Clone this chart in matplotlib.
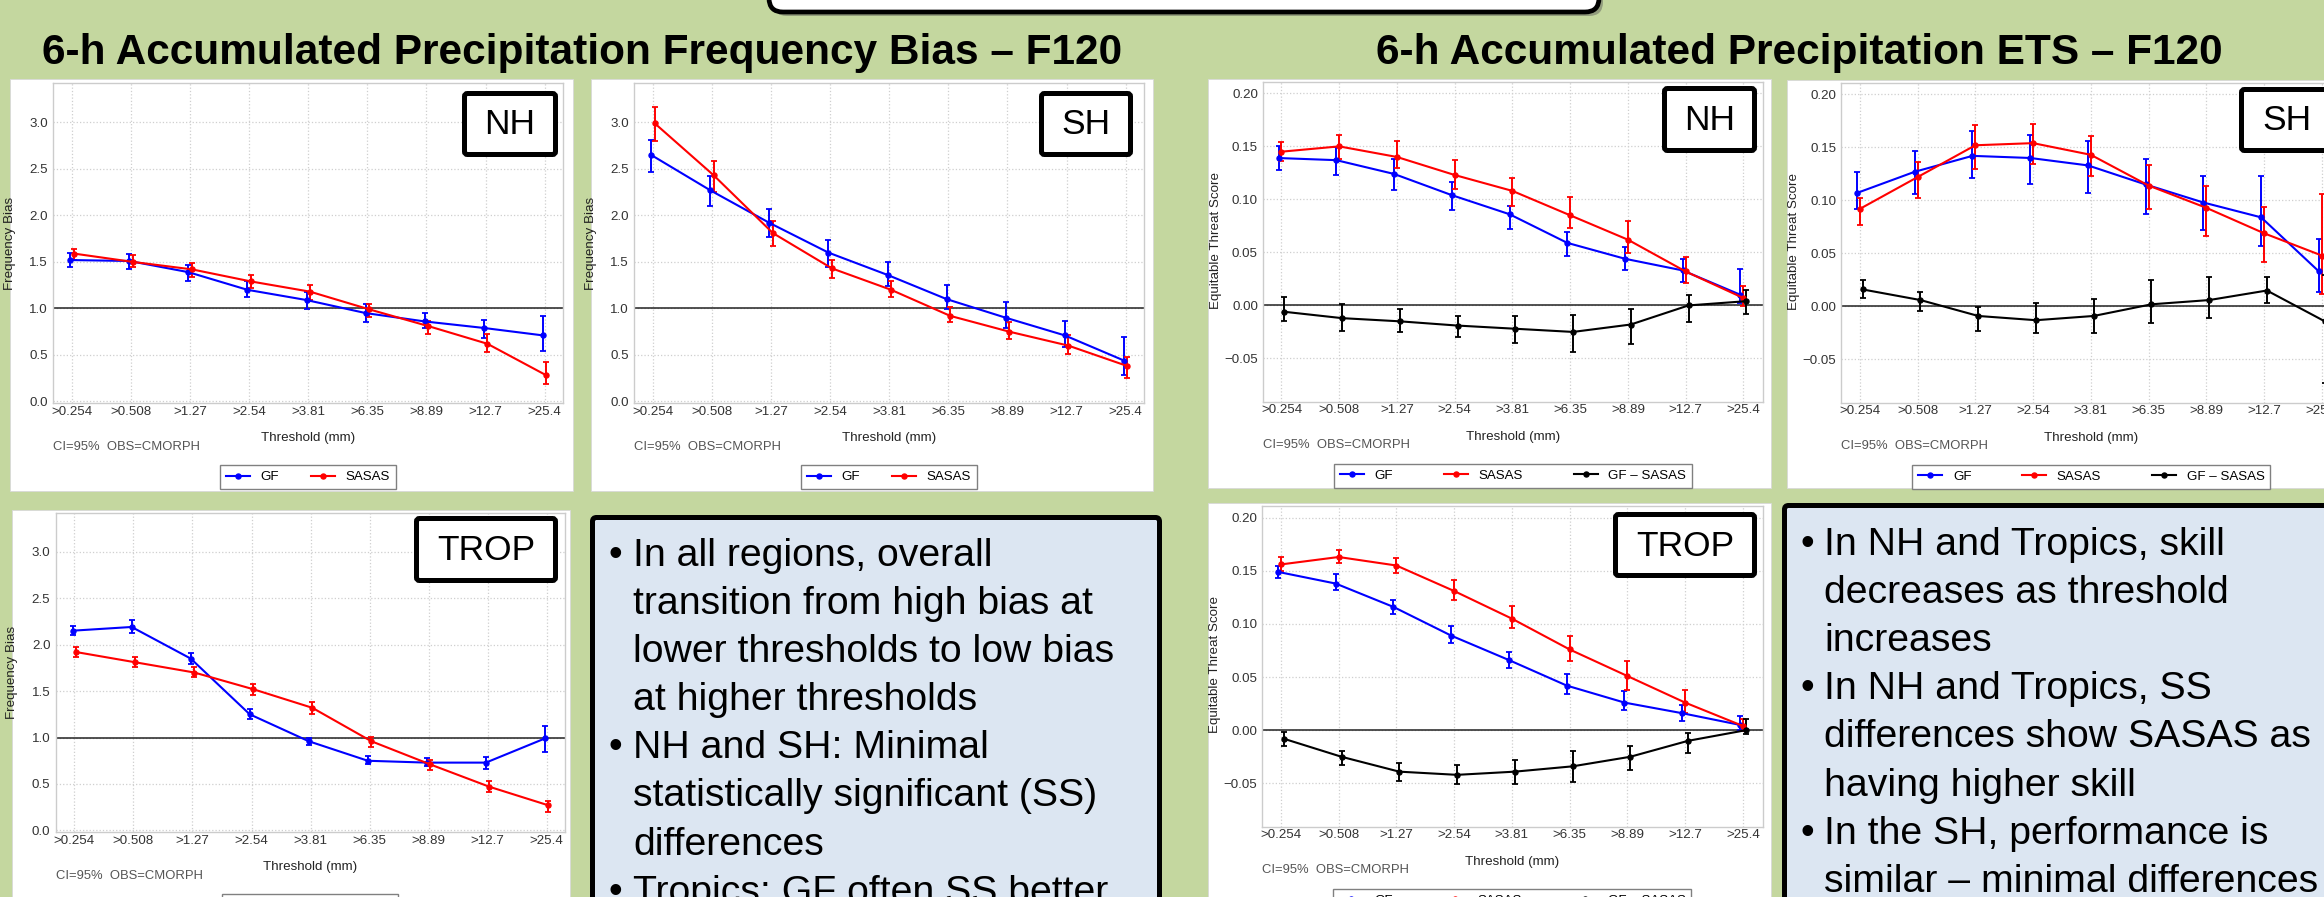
import numpy as np
import matplotlib
matplotlib.use("Agg")
import matplotlib.pyplot as plt
from matplotlib.patches import FancyBboxPatch, Rectangle
from matplotlib.lines import Line2D
from matplotlib.legend_handler import HandlerLine2D

plt.rcParams['font.family'] = ['Liberation Sans', 'DejaVu Sans']

W, H = 2324, 897  # taille de l'image en pixels
GREEN = '#C4D79F'

thresholds = [">0.254", ">0.508", ">1.27", ">2.54", ">3.81", ">6.35", ">8.89", ">12.7", ">25.4"]

# Frequency bias - NH
fb_nh_gf = [1.52, 1.51, 1.39, 1.20, 1.09, 0.95, 0.86, 0.79, 0.71]
fb_nh_gf_hi = [1.60, 1.58, 1.47, 1.30, 1.18, 1.05, 0.95, 0.88, 0.92]
fb_nh_gf_lo = [1.45, 1.42, 1.30, 1.12, 0.99, 0.85, 0.79, 0.68, 0.54]
fb_nh_sa = [1.59, 1.50, 1.42, 1.29, 1.18, 0.99, 0.81, 0.62, 0.28]
fb_nh_sa_hi = [1.64, 1.57, 1.49, 1.36, 1.25, 1.05, 0.87, 0.72, 0.42]
fb_nh_sa_lo = [1.52, 1.44, 1.34, 1.22, 1.09, 0.91, 0.73, 0.53, 0.19]

# Frequency bias - SH
fb_sh_gf = [2.65, 2.27, 1.92, 1.60, 1.36, 1.10, 0.90, 0.71, 0.44]
fb_sh_gf_hi = [2.81, 2.42, 2.07, 1.74, 1.50, 1.25, 1.07, 0.86, 0.69]
fb_sh_gf_lo = [2.47, 2.10, 1.77, 1.45, 1.24, 0.99, 0.79, 0.58, 0.28]
fb_sh_sa = [2.99, 2.43, 1.81, 1.43, 1.20, 0.92, 0.75, 0.60, 0.38]
fb_sh_sa_hi = [3.17, 2.59, 1.94, 1.52, 1.30, 1.02, 0.85, 0.71, 0.48]
fb_sh_sa_lo = [2.80, 2.25, 1.67, 1.33, 1.12, 0.85, 0.67, 0.51, 0.25]

# Frequency bias - TROP
fb_tr_gf = [2.15, 2.19, 1.85, 1.25, 0.96, 0.75, 0.73, 0.73, 0.99]
fb_tr_gf_hi = [2.20, 2.27, 1.91, 1.31, 1.00, 0.80, 0.78, 0.79, 1.12]
fb_tr_gf_lo = [2.10, 2.13, 1.79, 1.20, 0.92, 0.71, 0.69, 0.66, 0.84]
fb_tr_sa = [1.92, 1.81, 1.70, 1.52, 1.32, 0.96, 0.71, 0.47, 0.27]
fb_tr_sa_hi = [1.97, 1.87, 1.76, 1.58, 1.38, 1.01, 0.76, 0.53, 0.32]
fb_tr_sa_lo = [1.87, 1.76, 1.65, 1.46, 1.25, 0.90, 0.65, 0.41, 0.20]

# ETS - NH
ets_nh_gf = [0.139, 0.137, 0.124, 0.104, 0.086, 0.059, 0.044, 0.033, 0.010]
ets_nh_gf_hi = [0.150, 0.149, 0.138, 0.116, 0.094, 0.069, 0.055, 0.044, 0.034]
ets_nh_gf_lo = [0.128, 0.123, 0.109, 0.090, 0.072, 0.047, 0.033, 0.022, 0.002]
ets_nh_sa = [0.145, 0.150, 0.140, 0.123, 0.108, 0.085, 0.062, 0.032, 0.007]
ets_nh_sa_hi = [0.154, 0.161, 0.155, 0.137, 0.120, 0.102, 0.080, 0.046, 0.018]
ets_nh_sa_lo = [0.136, 0.138, 0.130, 0.110, 0.094, 0.073, 0.049, 0.021, -0.001]
ets_nh_df = [-0.006, -0.012, -0.015, -0.019, -0.022, -0.025, -0.018, 0.000, 0.004]
ets_nh_df_hi = [0.008, 0.001, -0.003, -0.010, -0.010, -0.009, -0.003, 0.010, 0.015]
ets_nh_df_lo = [-0.015, -0.024, -0.025, -0.030, -0.035, -0.044, -0.036, -0.016, -0.008]

# ETS - SH
ets_sh_gf = [0.107, 0.127, 0.142, 0.140, 0.133, 0.115, 0.098, 0.084, 0.033]
ets_sh_gf_hi = [0.127, 0.147, 0.165, 0.162, 0.156, 0.139, 0.123, 0.123, 0.064]
ets_sh_gf_lo = [0.092, 0.106, 0.121, 0.115, 0.107, 0.087, 0.072, 0.057, 0.014]
ets_sh_sa = [0.092, 0.122, 0.152, 0.154, 0.143, 0.114, 0.093, 0.069, 0.048]
ets_sh_sa_hi = [0.102, 0.136, 0.171, 0.172, 0.161, 0.133, 0.114, 0.094, 0.106]
ets_sh_sa_lo = [0.077, 0.102, 0.130, 0.134, 0.123, 0.092, 0.066, 0.042, 0.012]
ets_sh_df = [0.016, 0.006, -0.009, -0.013, -0.009, 0.002, 0.006, 0.015, -0.014]
ets_sh_df_hi = [0.025, 0.014, -0.001, 0.003, 0.007, 0.025, 0.028, 0.028, 0.030]
ets_sh_df_lo = [0.008, -0.004, -0.023, -0.025, -0.025, -0.016, -0.011, 0.003, -0.072]

# ETS - TROP
ets_tr_gf = [0.149, 0.138, 0.116, 0.089, 0.066, 0.042, 0.026, 0.016, 0.005]
ets_tr_gf_hi = [0.155, 0.147, 0.123, 0.098, 0.074, 0.053, 0.037, 0.024, 0.013]
ets_tr_gf_lo = [0.143, 0.132, 0.109, 0.082, 0.059, 0.034, 0.019, 0.009, 0.000]
ets_tr_sa = [0.156, 0.163, 0.155, 0.131, 0.105, 0.076, 0.051, 0.026, 0.004]
ets_tr_sa_hi = [0.163, 0.170, 0.162, 0.141, 0.117, 0.089, 0.065, 0.038, 0.011]
ets_tr_sa_lo = [0.150, 0.157, 0.148, 0.123, 0.096, 0.065, 0.038, 0.016, -0.001]
ets_tr_df = [-0.008, -0.025, -0.039, -0.042, -0.039, -0.034, -0.025, -0.010, 0.000]
ets_tr_df_hi = [-0.002, -0.020, -0.031, -0.033, -0.028, -0.020, -0.015, -0.003, 0.011]
ets_tr_df_lo = [-0.015, -0.033, -0.048, -0.051, -0.051, -0.049, -0.037, -0.021, -0.004]

left_notes = ["In all regions, overall", "transition from high bias at", "lower thresholds to low bias",
              "at higher thresholds", "NH and SH: Minimal", "statistically significant (SS)",
              "differences", "Tropics: GF often SS better"]
left_bullets = [0, 4, 7]
right_notes = ["In NH and Tropics, skill", "decreases as threshold", "increases",
               "In NH and Tropics, SS", "differences show SASAS as", "having higher skill",
               "In the SH, performance is", "similar \u2013 minimal differences"]
right_bullets = [0, 3, 6]


class EndDot(HandlerLine2D):
    # légende "à la R" : le point est au bout du trait
    def get_xdata(self, legend, xdescent, ydescent, width, height, fontsize):
        xdata = np.array([-xdescent, -xdescent + width])
        return xdata, xdata[1:]


def fig_rect(l, t, r, b):
    return [l / W, 1 - b / H, (r - l) / W, (b - t) / H]


fig = plt.figure(figsize=(W / 100, H / 100), dpi=100, facecolor=GREEN)

# Fond : coordonnées en pixels, y vers le bas
bg = fig.add_axes([0, 0, 1, 1])
bg.set_xlim(0, W)
bg.set_ylim(H, 0)
bg.axis('off')

# Boîte noire en haut (titre coupé)
bg.add_patch(FancyBboxPatch((773, -60), 830, 76, boxstyle='round,pad=0,rounding_size=14',
                            fc='#555555', ec='none', alpha=0.45))
bg.add_patch(FancyBboxPatch((769, -60), 830, 72, boxstyle='round,pad=0,rounding_size=14',
                            fc='white', ec='black', lw=3.4))

title_font = dict(family=['Liberation Sans Narrow', 'Liberation Sans'], weight='bold',
                  size=30.5, color='black', ha='center', va='baseline')
bg.text(582, 64, "6-h Accumulated Precipitation Frequency Bias \u2013 F120", **title_font)
bg.text(1799, 64, "6-h Accumulated Precipitation ETS \u2013 F120", **title_font)

# Panneaux blancs
for (l, t, r, b) in [(10, 79, 573, 491), (591, 79, 1153, 491), (1208, 79, 1771, 488),
                     (1787, 80, 2380, 488), (12, 510, 570, 960), (1208, 503, 1771, 960)]:
    bg.add_patch(Rectangle((l, t), r - l, b - t, fc='white', ec='#D8D8D8', lw=0.6))

x = np.arange(len(thresholds))


def chart(l, t, r, b, kind, series):
    ax = fig.add_axes(fig_rect(l, t, r, b))
    hpx = b - t
    if kind == 'fb':
        ax.set_ylim(-0.02, 3.42)
        ax.set_xlim(-0.32, 8.31)
        yt = np.arange(0, 3.01, 0.5)
        ax.set_yticks(yt, [f"{v:.1f}" for v in yt])
        ax.axhline(1.0, color='#222222', lw=1.1, zorder=1)
        ax.set_ylabel("Frequency Bias", fontsize=9.6, color='#222222')
        ax.yaxis.set_label_coords(-0.0735, 0.5)
        offs = [-0.03, 0.03]
        colspace = 2.4
    else:
        ax.set_ylim(-0.0908, 0.211)
        ax.set_xlim(-0.32, 8.34)
        yt = [-0.05, 0.0, 0.05, 0.10, 0.15, 0.20]
        ax.set_yticks(yt, [f"{v:.2f}".replace('-', '\u2212') for v in yt])
        ax.axhline(0.0, color='#222222', lw=1.1, zorder=1)
        ax.set_ylabel("Equitable Threat Score", fontsize=9.6, color='#222222')
        ax.yaxis.set_label_coords(-0.082, 0.505)
        offs = [-0.05, 0.0, 0.05]
        colspace = 3.8
    ax.set_xticks(x, thresholds)
    ax.tick_params(axis='both', length=0, labelsize=9.6, labelcolor='#333333')
    ax.tick_params(axis='x', pad=1.8)
    ax.tick_params(axis='y', pad=3.6)
    ax.grid(True, ls=':', color='#CFCFCF', lw=0.9)
    ax.set_axisbelow(True)
    for s in ax.spines.values():
        s.set_color('#CCCCCC')
        s.set_linewidth(1.0)

    handles, labels = [], []
    for (name, color, vals, lo, hi), off in zip(series, offs):
        vals, lo, hi = np.array(vals), np.array(lo), np.array(hi)
        ax.errorbar(x + off, vals, yerr=[vals - lo, hi - vals], color=color, lw=1.5,
                    marker='o', ms=3.6, capsize=2.2, elinewidth=1.4, capthick=1.3, zorder=3)
        handles.append(Line2D([], [], color=color, lw=1.5, marker='o', ms=3.6))
        labels.append(name)

    ax.text(0.5, -35 / hpx, "Threshold (mm)", transform=ax.transAxes, ha='center',
            va='center', fontsize=9.6, color='#222222')
    ax.text(0.0, -43.5 / hpx, "CI=95%  OBS=CMORPH", transform=ax.transAxes, ha='left',
            va='center', fontsize=9.4, color='#555555')
    leg = ax.legend(handles, labels, loc='center', ncol=len(handles),
                    bbox_to_anchor=((l + r) / 2, b + 74), bbox_transform=bg.transData,
                    handler_map={Line2D: EndDot()}, fontsize=9.6, handlelength=1.8,
                    handletextpad=0.8, columnspacing=colspace, borderpad=0.45,
                    fancybox=False, edgecolor='#808080', framealpha=1)
    leg.get_frame().set_linewidth(1.0)
    return ax


def fb_series(gf, gf_lo, gf_hi, sa, sa_lo, sa_hi):
    return [("GF", 'blue', gf, gf_lo, gf_hi), ("SASAS", 'red', sa, sa_lo, sa_hi)]


def ets_series(gf, gf_lo, gf_hi, sa, sa_lo, sa_hi, df, df_lo, df_hi):
    return [("GF", 'blue', gf, gf_lo, gf_hi), ("SASAS", 'red', sa, sa_lo, sa_hi),
            ("GF \u2013 SASAS", 'black', df, df_lo, df_hi)]


chart(53, 83.3, 563, 403.3, 'fb', fb_series(fb_nh_gf, fb_nh_gf_lo, fb_nh_gf_hi,
                                            fb_nh_sa, fb_nh_sa_lo, fb_nh_sa_hi))
chart(634, 83.3, 1144, 403.3, 'fb', fb_series(fb_sh_gf, fb_sh_gf_lo, fb_sh_gf_hi,
                                              fb_sh_sa, fb_sh_sa_lo, fb_sh_sa_hi))
chart(55.5, 512.7, 565, 832.3, 'fb', fb_series(fb_tr_gf, fb_tr_gf_lo, fb_tr_gf_hi,
                                               fb_tr_sa, fb_tr_sa_lo, fb_tr_sa_hi))
chart(1263, 81.7, 1763, 401.7, 'ets', ets_series(ets_nh_gf, ets_nh_gf_lo, ets_nh_gf_hi,
                                                 ets_nh_sa, ets_nh_sa_lo, ets_nh_sa_hi,
                                                 ets_nh_df, ets_nh_df_lo, ets_nh_df_hi))
chart(1841.4, 82.7, 2341.4, 402.7, 'ets', ets_series(ets_sh_gf, ets_sh_gf_lo, ets_sh_gf_hi,
                                                     ets_sh_sa, ets_sh_sa_lo, ets_sh_sa_hi,
                                                     ets_sh_df, ets_sh_df_lo, ets_sh_df_hi))
chart(1262.4, 506, 1762.5, 826.7, 'ets', ets_series(ets_tr_gf, ets_tr_gf_lo, ets_tr_gf_hi,
                                                    ets_tr_sa, ets_tr_sa_lo, ets_tr_sa_hi,
                                                    ets_tr_df, ets_tr_df_lo, ets_tr_df_hi))

# Calque du dessus : étiquettes de région et encadrés de texte
ov = fig.add_axes([0, 0, 1, 1])
ov.set_xlim(0, W)
ov.set_ylim(H, 0)
ov.axis('off')
ov.patch.set_visible(False)

for (l, t, r, b, name) in [(462, 91, 558, 157, "NH"), (1039, 91, 1133, 157, "SH"),
                           (1662, 86, 1757, 153, "NH"), (2239, 87, 2334, 153, "SH"),
                           (414, 516, 558, 583, "TROP"), (1613, 512, 1757, 578, "TROP")]:
    ov.add_patch(FancyBboxPatch((l + 2.5, t + 2.5), r - l - 5, b - t - 5,
                                boxstyle='round,pad=0,rounding_size=3',
                                fc='white', ec='black', lw=3.6))
    ov.text((l + r) / 2, (t + b) / 2 + 1, name, ha='center', va='center', fontsize=25.5)

note_font = dict(fontsize=28.3, color='black', va='baseline', ha='left')
for (l, t, r, b, lines, bullets, x_txt, y0) in [
        (590, 515, 1162, 980, left_notes, left_bullets, 633, 566),
        (1782, 503, 2380, 980, right_notes, right_bullets, 1824, 555)]:
    ov.add_patch(FancyBboxPatch((l + 2.5, t + 2.5), r - l - 5, b - t - 5,
                                boxstyle='round,pad=0,rounding_size=4',
                                fc='#DCE6F2', ec='black', lw=3.6))
    for i, line in enumerate(lines):
        y = y0 + 48.1 * i
        if i in bullets:
            ov.text(x_txt - 24, y, "\u2022", **note_font)
        ov.text(x_txt, y, line, **note_font)

fig.savefig("out.png", dpi=100, facecolor=GREEN)
